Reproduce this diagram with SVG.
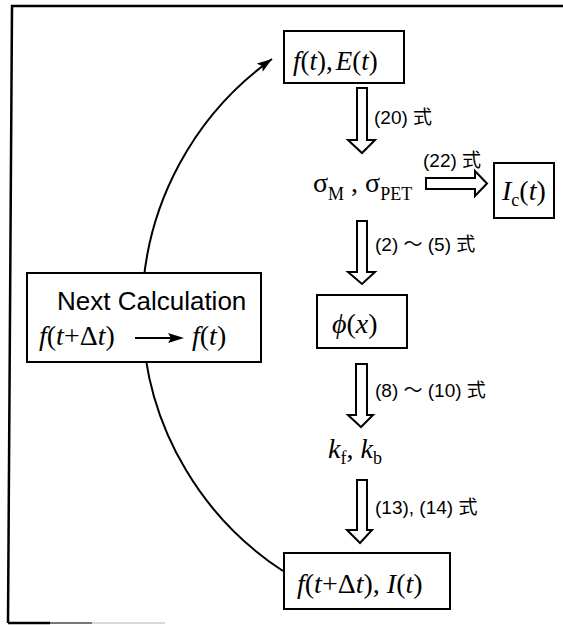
<svg xmlns="http://www.w3.org/2000/svg" width="563" height="625" viewBox="0 0 563 625">
<style>
.box{fill:#fff;stroke:#000;stroke-width:2}
.frame{fill:none;stroke:#000;stroke-width:2.5}
.math{font-family:"Liberation Serif","Times New Roman",serif;font-size:28px;fill:#000}
.it{font-style:italic}
.sub{font-size:18px}
.lbl{font-family:"Liberation Sans","Noto Sans CJK JP",sans-serif;font-size:19px;fill:#000}
.hollow{fill:#fff;stroke:#000;stroke-width:2;stroke-linejoin:miter}
.curve{fill:none;stroke:#000;stroke-width:2}
.sans{font-family:"Liberation Sans",Arial,sans-serif;font-size:26px;fill:#000}
</style>
<defs>
<marker id="head" markerWidth="16" markerHeight="10" refX="15" refY="5" orient="auto" markerUnits="userSpaceOnUse">
<path d="M0,0 L15,5 L0,10 L3,5 Z" fill="#000"/>
</marker>
</defs>
<g id="frame">
<path class="frame" d="M563,6 L12,6 L8,623"/>
<line x1="8" y1="623" x2="50" y2="623" stroke="#000" stroke-width="2.5"/>
<line x1="50" y1="623" x2="92" y2="623" stroke="#777" stroke-width="2"/>
<line x1="92" y1="623" x2="165" y2="623" stroke="#ccc" stroke-width="1.5"/>
</g>
<g id="connectors">
<path class="curve" d="M283,571 A310,310 0 0 1 272,59" marker-end="url(#head)"/>
<path class="hollow" d="M357,88 L367,88 L367,140 L375,140 L362,153 L348,140 L357,140 Z"/>
<path class="hollow" d="M357,221 L367,221 L367,272 L375,272 L362,284 L348,272 L357,272 Z"/>
<path class="hollow" d="M356,364 L367,364 L367,415 L373,415 L361,427 L348,415 L356,415 Z"/>
<path class="hollow" d="M357,480 L367,480 L367,530 L372,530 L360,543 L347,530 L357,530 Z"/>
<path class="hollow" d="M426,178 L475,178 L475,171 L487,183.5 L475,196 L475,189 L426,189 Z"/>
<text class="lbl" x="374" y="124">(20) 式</text>
<text class="lbl" x="423" y="167">(22) 式</text>
<text class="lbl" x="375" y="251">(2) ～ (5) 式</text>
<text class="lbl" x="375" y="397">(8) ～ (10) 式</text>
<text class="lbl" x="375" y="514">(13), (14) 式</text>
</g>
<g id="fE">
<rect class="box" x="284" y="31" width="120" height="52"/>
<text class="math" x="293" y="70" style="font-size:27px"><tspan class="it">f</tspan>(<tspan class="it">t</tspan>),<tspan class="it" dx="3">E</tspan>(<tspan class="it">t</tspan>)</text>
</g>
<g id="sigma">
<text class="math" x="313" y="192">σ<tspan class="sub" dy="8">M</tspan><tspan dy="-8"> , σ</tspan><tspan class="sub" dy="8">PET</tspan></text>
</g>
<g id="Ic">
<rect class="box" x="494" y="163" width="60" height="55"/>
<text class="math" x="502" y="200"><tspan class="it">I</tspan><tspan class="sub" dy="6">c</tspan><tspan dy="-6">(</tspan><tspan class="it">t</tspan>)</text>
</g>
<g id="phi">
<rect class="box" x="317" y="295" width="90" height="53"/>
<text class="math" x="332" y="333"><tspan class="it">ϕ</tspan>(<tspan class="it">x</tspan>)</text>
</g>
<g id="k">
<text class="math" x="328" y="458"><tspan class="it">k</tspan><tspan class="sub" dy="6">f</tspan><tspan dy="-6">, </tspan><tspan class="it">k</tspan><tspan class="sub" dy="6">b</tspan></text>
</g>
<g id="fI">
<rect class="box" x="284" y="553" width="166" height="56"/>
<text class="math" x="297" y="593"><tspan class="it">f</tspan>(<tspan class="it">t</tspan>+Δ<tspan class="it">t</tspan>), <tspan class="it">I</tspan>(<tspan class="it">t</tspan>)</text>
</g>
<g id="next">
<rect class="box" x="27" y="273" width="234" height="89"/>
<text class="sans" x="57" y="310">Next Calculation</text>
<text class="math" x="39" y="345"><tspan class="it">f</tspan>(<tspan class="it">t</tspan>+Δ<tspan class="it">t</tspan>)</text>
<line x1="135" y1="338" x2="172" y2="338" stroke="#000" stroke-width="2"/>
<path d="M184,338 L168,333 L171,338 L168,343 Z" fill="#000"/>
<text class="math" x="192" y="345"><tspan class="it">f</tspan>(<tspan class="it">t</tspan>)</text>
</g>
</svg>
